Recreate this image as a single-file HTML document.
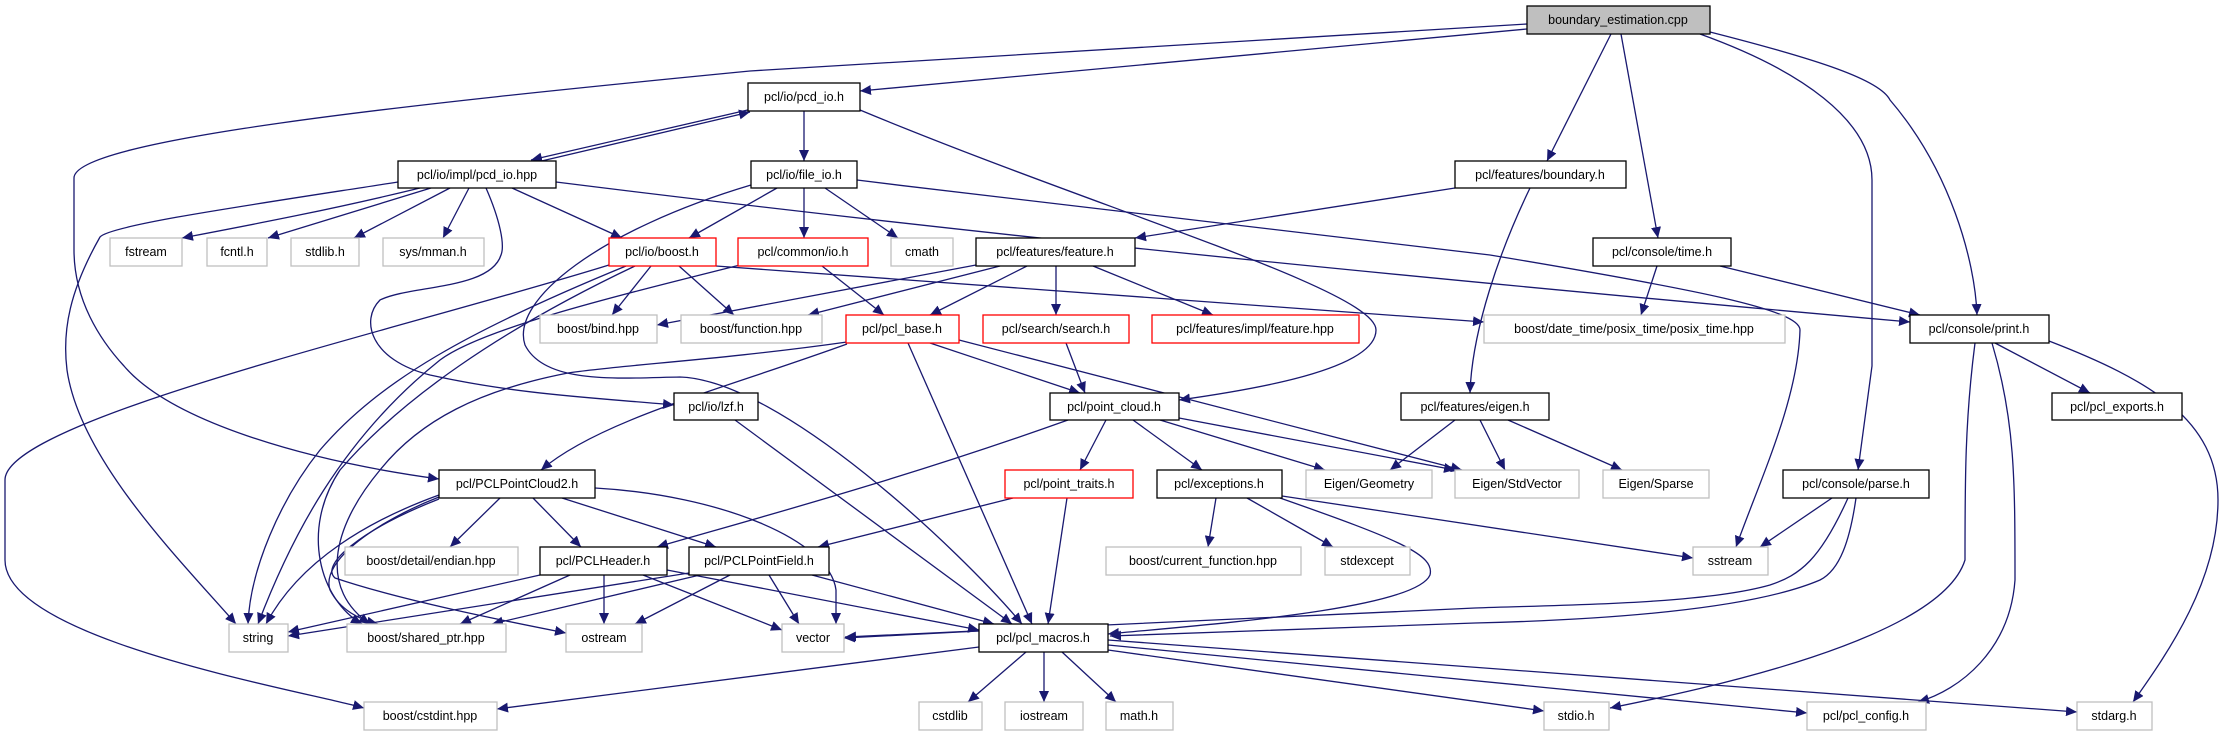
<!DOCTYPE html>
<html><head><meta charset="utf-8"><style>
html,body{margin:0;padding:0;background:#fff;}
svg{display:block;}
text{font-family:"Liberation Sans",sans-serif;font-size:12.5px;fill:#000;text-anchor:middle;}
.e{fill:none;stroke:#191970;stroke-width:1.3;marker-end:url(#a);}
.b{fill:#fff;stroke:#000;stroke-width:1.3;}
.g{fill:#fff;stroke:#bfbfbf;stroke-width:1.3;}
.r{fill:#fff;stroke:#ff0000;stroke-width:1.3;}
</style></head><body>
<svg width="2225" height="736" viewBox="0 0 2225 736" xmlns="http://www.w3.org/2000/svg">
<defs>
<marker id="a" markerUnits="userSpaceOnUse" markerWidth="12" markerHeight="10" refX="11" refY="5" orient="auto">
<path d="M0,0 L11,5 L0,10 z" fill="#191970"/>
</marker>
</defs>
<g>
<!-- root edges -->
<path class="e" d="M1527,24 C1200,45 900,60 750,71 C400,105 74,140 74,178 L74,250 C74,300 100,340 124,366 C170,420 300,460 439,479"/>
<path class="e" d="M1527,29 L860,91"/>
<path class="e" d="M1611,34 L1547,161"/>
<path class="e" d="M1621,34 L1658,238"/>
<path class="e" d="M1700,34 C1800,70 1872,120 1872,180 L1872,366 L1858,470"/>
<path class="e" d="M1710,32 C1820,60 1880,80 1890,100 C1950,170 1975,260 1977,315"/>
<!-- pcd_io.h -->
<path class="e" d="M752,109 L531,160"/>
<path class="e" d="M533,163 L750,112"/>
<path class="e" d="M804,111 L804,161"/>
<path class="e" d="M860,110 C1100,210 1376,290 1376,330 C1376,370 1250,390 1179,400"/>
<!-- impl/pcd_io.hpp -->
<path class="e" d="M420,188 C330,210 250,225 182,238"/>
<path class="e" d="M431,188 L268,238"/>
<path class="e" d="M450,188 L354,238"/>
<path class="e" d="M469,188 L443,238"/>
<path class="e" d="M512,188 L622,238"/>
<path class="e" d="M486,188 C500,220 505,245 501,255 C490,290 410,285 380,300 C360,320 370,360 430,375 C520,395 600,398 674,405"/>
<path class="e" d="M398,182 C250,205 110,225 100,237 C70,290 62,330 67,370 C80,460 180,560 236,624"/>
<path class="e" d="M556,182 C900,225 1300,268 1910,322"/>
<!-- file_io.h -->
<path class="e" d="M804,188 L804,238"/>
<path class="e" d="M825,188 L898,238"/>
<path class="e" d="M777,188 L689,238"/>
<path class="e" d="M751,185 C600,230 510,300 525,345 C545,385 620,378 680,377 C780,380 960,550 1022,624"/>
<path class="e" d="M857,180 C1100,210 1350,240 1490,255 C1700,290 1800,310 1800,330 C1798,400 1760,480 1736,547"/>
<!-- boost.h -->
<path class="e" d="M651,266 L612,315"/>
<path class="e" d="M679,266 L734,315"/>
<path class="e" d="M609,265 C400,330 5,420 5,480 L5,560 C5,640 300,690 364,708"/>
<path class="e" d="M626,266 C470,330 380,380 320,450 C280,500 250,570 248,624"/>
<path class="e" d="M635,266 C500,330 400,400 340,470 C300,530 320,600 362,624"/>
<path class="e" d="M716,266 L1484,322"/>
<!-- common/io.h -->
<path class="e" d="M822,266 L884,315"/>
<path class="e" d="M740,265 C600,300 480,330 440,360 C340,440 290,540 258,624"/>
<!-- feature.h -->
<path class="e" d="M976,265 L657,325"/>
<path class="e" d="M1000,266 L808,315"/>
<path class="e" d="M1027,266 L930,315"/>
<path class="e" d="M1056,266 L1056,315"/>
<path class="e" d="M1093,266 L1213,315"/>
<!-- boundary.h -->
<path class="e" d="M1455,188 L1135,238"/>
<path class="e" d="M1530,188 C1500,250 1472,330 1470,393"/>
<!-- time.h -->
<path class="e" d="M1657,266 L1641,315"/>
<path class="e" d="M1720,266 L1920,315"/>
<!-- print.h -->
<path class="e" d="M1995,343 L2090,393"/>
<path class="e" d="M1975,343 C1965,420 1965,480 1965,560 C1940,640 1700,690 1610,708"/>
<path class="e" d="M1992,343 C2015,420 2015,480 2015,580 C2010,650 1960,690 1918,702"/>
<path class="e" d="M2049,341 C2150,380 2218,420 2218,500 C2218,580 2170,650 2133,702"/>
<!-- pcl_base.h -->
<path class="e" d="M847,342 C720,360 620,365 568,373 C480,390 420,420 380,470 C330,530 320,590 370,624"/>
<path class="e" d="M847,344 C720,390 600,420 541,470"/>
<path class="e" d="M930,343 L1080,393"/>
<path class="e" d="M908,343 L1032,624"/>
<path class="e" d="M959,340 L1462,470"/>
<!-- search.h / lzf -->
<path class="e" d="M1066,343 L1085,393"/>
<path class="e" d="M735,420 L1012,624"/>
<!-- point_cloud.h -->
<path class="e" d="M1106,420 L1080,470"/>
<path class="e" d="M1133,420 L1202,470"/>
<path class="e" d="M1160,420 L1325,470"/>
<path class="e" d="M1179,418 L1455,470"/>
<path class="e" d="M1068,420 C900,480 750,520 657,547"/>
<!-- eigen.h -->
<path class="e" d="M1455,420 L1390,470"/>
<path class="e" d="M1480,420 L1505,470"/>
<path class="e" d="M1508,420 L1622,470"/>
<!-- point_traits -->
<path class="e" d="M1013,498 L818,547"/>
<path class="e" d="M1067,498 L1048,624"/>
<!-- exceptions -->
<path class="e" d="M1216,498 L1208,547"/>
<path class="e" d="M1247,498 L1333,547"/>
<path class="e" d="M1282,496 L1693,558"/>
<path class="e" d="M1280,498 C1400,540 1435,555 1430,575 C1415,610 1200,625 1108,634"/>
<!-- parse.h -->
<path class="e" d="M1832,498 L1760,547"/>
<path class="e" d="M1848,498 C1820,560 1800,575 1770,585 C1700,605 1550,605 1475,608 L845,637"/>
<path class="e" d="M1856,498 C1850,540 1840,570 1820,580 C1750,610 1600,620 1475,623 L1110,636"/>
<!-- PCLPointCloud2 -->
<path class="e" d="M500,498 L450,547"/>
<path class="e" d="M533,498 L581,547"/>
<path class="e" d="M562,498 L716,547"/>
<path class="e" d="M439,495 C370,520 300,560 266,624"/>
<path class="e" d="M439,497 C380,520 320,560 330,590 C340,610 360,620 378,624"/>
<path class="e" d="M439,499 C360,530 320,565 335,578 C400,600 500,620 566,633"/>
<path class="e" d="M595,488 C720,495 830,540 836,590 L836,624"/>
<!-- PCLHeader -->
<path class="e" d="M540,575 L288,632"/>
<path class="e" d="M570,575 L460,624"/>
<path class="e" d="M604,575 L604,624"/>
<path class="e" d="M643,575 L782,630"/>
<path class="e" d="M667,570 L979,630"/>
<!-- PCLPointField -->
<path class="e" d="M689,573 L288,636"/>
<path class="e" d="M700,575 L492,624"/>
<path class="e" d="M730,575 L635,624"/>
<path class="e" d="M769,575 L799,624"/>
<path class="e" d="M812,575 L994,624"/>
<!-- pcl_macros -->
<path class="e" d="M979,631 L844,638"/>
<path class="e" d="M1026,652 L968,702"/>
<path class="e" d="M1044,652 L1044,702"/>
<path class="e" d="M1062,652 L1116,702"/>
<path class="e" d="M979,647 L497,709"/>
<path class="e" d="M1108,650 L1544,711"/>
<path class="e" d="M1108,645 L1807,713"/>
<path class="e" d="M1108,640 L2077,712"/>
</g>
<g>
<rect x="1527" y="6" width="183" height="28" fill="#bfbfbf" stroke="#000" stroke-width="1.3"/><text x="1618" y="24">boundary_estimation.cpp</text>
<rect class="b" x="748" y="83" width="112" height="28"/><text x="804" y="101">pcl/io/pcd_io.h</text>
<rect class="b" x="398" y="161" width="158" height="27"/><text x="477" y="179">pcl/io/impl/pcd_io.hpp</text>
<rect class="b" x="751" y="161" width="106" height="27"/><text x="804" y="179">pcl/io/file_io.h</text>
<rect class="b" x="1455" y="161" width="171" height="27"/><text x="1540" y="179">pcl/features/boundary.h</text>
<rect class="g" x="110" y="238" width="72" height="28"/><text x="146" y="256">fstream</text>
<rect class="g" x="207" y="238" width="60" height="28"/><text x="237" y="256">fcntl.h</text>
<rect class="g" x="291" y="238" width="68" height="28"/><text x="325" y="256">stdlib.h</text>
<rect class="g" x="383" y="238" width="101" height="28"/><text x="433" y="256">sys/mman.h</text>
<rect class="r" x="609" y="238" width="107" height="28"/><text x="662" y="256">pcl/io/boost.h</text>
<rect class="r" x="738" y="238" width="130" height="28"/><text x="803" y="256">pcl/common/io.h</text>
<rect class="g" x="891" y="238" width="62" height="28"/><text x="922" y="256">cmath</text>
<rect class="b" x="976" y="238" width="159" height="28"/><text x="1055" y="256">pcl/features/feature.h</text>
<rect class="b" x="1593" y="238" width="138" height="28"/><text x="1662" y="256">pcl/console/time.h</text>
<rect class="g" x="540" y="315" width="117" height="28"/><text x="598" y="333">boost/bind.hpp</text>
<rect class="g" x="681" y="315" width="141" height="28"/><text x="751" y="333">boost/function.hpp</text>
<rect class="r" x="846" y="315" width="113" height="28"/><text x="902" y="333">pcl/pcl_base.h</text>
<rect class="r" x="983" y="315" width="146" height="28"/><text x="1056" y="333">pcl/search/search.h</text>
<rect class="r" x="1152" y="315" width="207" height="28"/><text x="1255" y="333">pcl/features/impl/feature.hpp</text>
<rect class="g" x="1484" y="315" width="301" height="28"/><text x="1634" y="333">boost/date_time/posix_time/posix_time.hpp</text>
<rect class="b" x="1910" y="315" width="139" height="28"/><text x="1979" y="333">pcl/console/print.h</text>
<rect class="b" x="674" y="393" width="84" height="27"/><text x="716" y="411">pcl/io/lzf.h</text>
<rect class="b" x="1050" y="393" width="129" height="27"/><text x="1114" y="411">pcl/point_cloud.h</text>
<rect class="b" x="1401" y="393" width="148" height="27"/><text x="1475" y="411">pcl/features/eigen.h</text>
<rect class="b" x="2052" y="393" width="130" height="27"/><text x="2117" y="411">pcl/pcl_exports.h</text>
<rect class="b" x="439" y="470" width="156" height="28"/><text x="517" y="488">pcl/PCLPointCloud2.h</text>
<rect class="r" x="1005" y="470" width="128" height="28"/><text x="1069" y="488">pcl/point_traits.h</text>
<rect class="b" x="1157" y="470" width="125" height="28"/><text x="1219" y="488">pcl/exceptions.h</text>
<rect class="g" x="1306" y="470" width="126" height="28"/><text x="1369" y="488">Eigen/Geometry</text>
<rect class="g" x="1455" y="470" width="124" height="28"/><text x="1517" y="488">Eigen/StdVector</text>
<rect class="g" x="1603" y="470" width="106" height="28"/><text x="1656" y="488">Eigen/Sparse</text>
<rect class="b" x="1783" y="470" width="146" height="28"/><text x="1856" y="488">pcl/console/parse.h</text>
<rect class="g" x="345" y="547" width="173" height="28"/><text x="431" y="565">boost/detail/endian.hpp</text>
<rect class="b" x="540" y="547" width="127" height="28"/><text x="603" y="565">pcl/PCLHeader.h</text>
<rect class="b" x="689" y="547" width="140" height="28"/><text x="759" y="565">pcl/PCLPointField.h</text>
<rect class="g" x="1106" y="547" width="195" height="28"/><text x="1203" y="565">boost/current_function.hpp</text>
<rect class="g" x="1325" y="547" width="85" height="28"/><text x="1367" y="565">stdexcept</text>
<rect class="g" x="1693" y="547" width="75" height="28"/><text x="1730" y="565">sstream</text>
<rect class="g" x="229" y="624" width="59" height="28"/><text x="258" y="642">string</text>
<rect class="g" x="347" y="624" width="159" height="28"/><text x="426" y="642">boost/shared_ptr.hpp</text>
<rect class="g" x="566" y="624" width="76" height="28"/><text x="604" y="642">ostream</text>
<rect class="g" x="782" y="624" width="62" height="28"/><text x="813" y="642">vector</text>
<rect class="b" x="979" y="624" width="129" height="28"/><text x="1043" y="642">pcl/pcl_macros.h</text>
<rect class="g" x="364" y="702" width="133" height="28"/><text x="430" y="720">boost/cstdint.hpp</text>
<rect class="g" x="919" y="702" width="63" height="28"/><text x="950" y="720">cstdlib</text>
<rect class="g" x="1005" y="702" width="78" height="28"/><text x="1044" y="720">iostream</text>
<rect class="g" x="1106" y="702" width="67" height="28"/><text x="1139" y="720">math.h</text>
<rect class="g" x="1544" y="702" width="65" height="28"/><text x="1576" y="720">stdio.h</text>
<rect class="g" x="1807" y="702" width="119" height="28"/><text x="1866" y="720">pcl/pcl_config.h</text>
<rect class="g" x="2077" y="702" width="75" height="28"/><text x="2114" y="720">stdarg.h</text>
</g>
</svg>
</body></html>
